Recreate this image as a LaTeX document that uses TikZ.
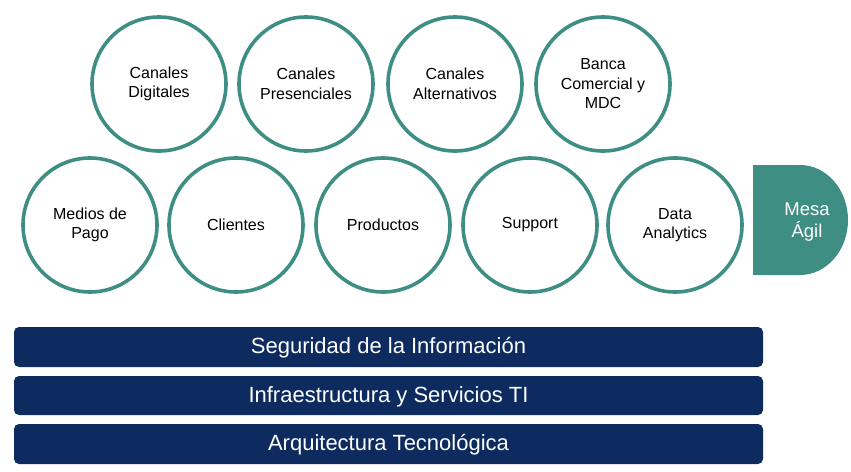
\documentclass[tikz,border=0pt]{standalone}
\usepackage{fontspec}
\setmainfont{Liberation Sans}
\definecolor{teal1}{RGB}{62,142,132}
\definecolor{navy1}{RGB}{13,43,94}
\begin{document}
\begin{tikzpicture}[x=1pt,y=-1pt,
  circ/.style={circle,draw=teal1,line width=3.6pt,minimum size=134pt,inner sep=0pt,align=center,font=\fontsize{16}{19.5}\selectfont,text=black},
  bar/.style={fill=navy1,rounded corners=5pt,draw=none},
  bartext/.style={text=white,font=\fontsize{22}{26}\selectfont}]
\useasboundingbox (0,0) rectangle (851,471);
% top row
\node[circ] (cd) at (159,84) {Canales\\Digitales};
\node[circ] (cp) at (306,84) {Canales\\Presenciales};
\node[circ] (ca) at (455,84) {Canales\\Alternativos};
\node[circ] (bc) at (603,84) {Banca\\Comercial y\\MDC};
% bottom row
\node[circ] (mp) at (90,225) {Medios de\\Pago};
\node[circ] (cl) at (236,225) {Clientes};
\node[circ] (pr) at (383,225) {Productos};
\node[circ] (su) at (530,225) {Support};
\node[circ] (da) at (675,225) {Data\\Analytics};
% Mesa Agil
\fill[teal1] (753,165) -- (800,165) arc[start angle=-90,end angle=90,x radius=48,y radius=55]
  -- (753,275) -- cycle;
\node[text=white,align=center,font=\fontsize{18.5}{22}\selectfont] (ma) at (807,222) {Mesa\\Ágil};
% bars
\fill[bar] (14,327) rectangle (763,367);
\node[bartext] (b1) at (388.5,348) {Seguridad de la Información};
\fill[bar] (14,376) rectangle (763,415);
\node[bartext] (b2) at (388.5,396.5) {Infraestructura y Servicios TI};
\fill[bar] (14,424) rectangle (763,464);
\node[bartext] (b3) at (388.5,445) {Arquitectura Tecnológica};
\end{tikzpicture}
\end{document}
